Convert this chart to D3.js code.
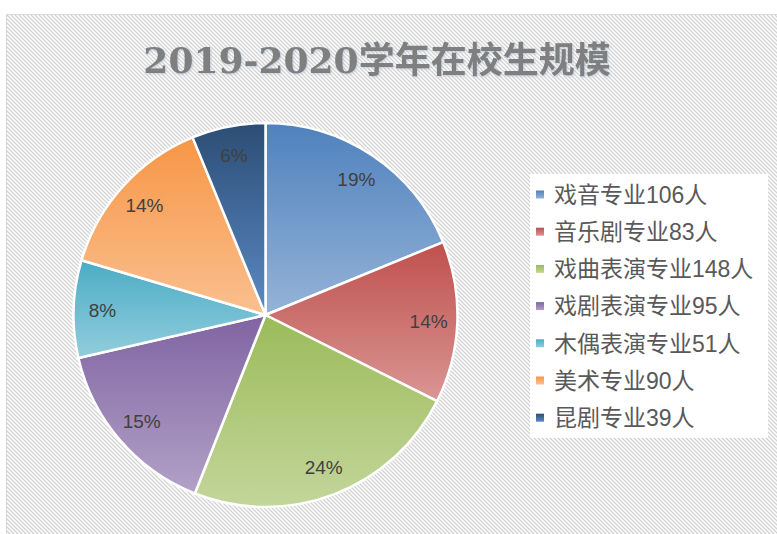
<!DOCTYPE html>
<html>
<head>
<meta charset="utf-8">
<script src="https://cdn.jsdelivr.net/npm/d3@7"></script>
<style>
	body { margin: 0; background: #fff; }
	svg { display: block; }
</style>
</head>
<body>
<div id="main"></div>
<script>
const titleText = "2019-2020学年在校生规模";
const categories = ["戏音专业", "音乐剧专业", "戏曲表演专业", "戏剧表演专业", "木偶表演专业", "美术专业", "昆剧专业"];
const counts = [106, 83, 148, 95, 51, 90, 39];
// slice shares (%) as drawn in the pie
const shares = [18.8, 13.6, 23.6, 15.4, 8.2, 14.2, 6.2];

const topColors = ["#4F81BD", "#C0504D", "#9BBB59", "#8064A2", "#4BACC6", "#F79646", "#2C4D75"];
const bottomColors = ["#95B3D7", "#D99694", "#C3D69B", "#B2A1C7", "#92CDDC", "#FAC090", "#5B8AC4"];

const width = 777,
	height = 534;

const svg = d3
	.select("#main")
	.append("svg")
	.attr("width", width)
	.attr("height", height);

const defs = svg.append("defs");

// diagonal hatch background
const hatch = defs
	.append("pattern")
	.attr("id", "hatch")
	.attr("patternUnits", "userSpaceOnUse")
	.attr("width", 4)
	.attr("height", 4);
hatch.append("rect").attr("width", 4).attr("height", 4).attr("fill", "#fff");
hatch
	.append("path")
	.attr("d", "M-1,-1 L5,5 M-1,3 L1,5 M3,-1 L5,1")
	.attr("stroke", "#d3d3d3")
	.attr("stroke-width", 1.3);

topColors.forEach((c, i) => {
	const g = defs
		.append("linearGradient")
		.attr("id", `grad-${i}`)
		.attr("x1", 0)
		.attr("y1", 0)
		.attr("x2", 0)
		.attr("y2", 1);
	g.append("stop").attr("offset", "0%").attr("stop-color", c);
	g.append("stop").attr("offset", "100%").attr("stop-color", bottomColors[i]);
});

const shadow = defs.append("filter").attr("id", "tshadow");
shadow
	.append("feDropShadow")
	.attr("dx", 1)
	.attr("dy", 1)
	.attr("stdDeviation", 0.8)
	.attr("flood-color", "#9fb3cc")
	.attr("flood-opacity", 0.6);

svg.append("rect")
	.attr("x", 6.5)
	.attr("y", 14.5)
	.attr("width", width)
	.attr("height", height)
	.attr("fill", "url(#hatch)")
	.attr("stroke", "#d9d9d9");

svg.append("text")
	.attr("x", 377)
	.attr("y", 73)
	.attr("text-anchor", "middle")
	.attr("filter", "url(#tshadow)")
	.style("font-family", "'DejaVu Serif', 'Noto Sans CJK SC', serif")
	.style("font-size", "36px")
	.style("font-weight", 700)
	.style("fill", "#7f7f7f")
	.text(titleText);

// pie
const cx = 265.5,
	cy = 315,
	radius = 192;

const data = categories.map((name, i) => ({ name, count: counts[i], share: shares[i], i }));

const pie = d3
	.pie()
	.sort(null)
	.value((d) => d.share);
const arc = d3.arc().innerRadius(0).outerRadius(radius);
const labelArc = d3
	.arc()
	.innerRadius(radius * 0.85)
	.outerRadius(radius * 0.85);

const guts = svg.append("g").attr("transform", `translate(${cx},${cy})`);
const arcs = pie(data);

guts.selectAll("path.slice")
	.data(arcs)
	.enter()
	.append("path")
	.classed("slice", true)
	.attr("d", arc)
	.attr("fill", (d) => `url(#grad-${d.data.i})`)
	.attr("stroke", "#fff")
	.attr("stroke-width", 2.5)
	.attr("stroke-linejoin", "round");

const total = d3.sum(shares);
guts.selectAll("text.pct")
	.data(arcs)
	.enter()
	.append("text")
	.classed("pct", true)
	.attr("transform", (d) => `translate(${labelArc.centroid(d)})`)
	.attr("text-anchor", "middle")
	.attr("dy", "0.36em")
	.style("font-family", "'Liberation Sans', Arial, sans-serif")
	.style("font-size", "19px")
	.style("fill", "#404040")
	.text((d) => `${Math.round((d.data.share / total) * 100)}%`);

// legend
svg.append("rect")
	.attr("x", 530)
	.attr("y", 174)
	.attr("width", 238)
	.attr("height", 264)
	.attr("fill", "#fff");

const legend = svg
	.append("g")
	.classed("legend", true)
	.attr("transform", "translate(536, 194.5)");

const items = legend
	.selectAll(".block")
	.data(data)
	.enter()
	.append("g")
	.classed("block", true)
	.attr("transform", (d, i) => `translate(0, ${i * 37.2})`);

items.append("rect")
	.attr("x", 0)
	.attr("y", -4)
	.attr("width", 8)
	.attr("height", 8)
	.attr("fill", (d) => `url(#grad-${d.i})`);

items.append("text")
	.attr("x", 18)
	.attr("y", 0)
	.attr("dy", "0.36em")
	.style("font-family", "'Liberation Sans', 'Noto Sans CJK SC', sans-serif")
	.style("font-size", "23px")
	.style("fill", "#595959")
	.text((d) => `${d.name}${d.count}人`);
</script>
</body>
</html>
